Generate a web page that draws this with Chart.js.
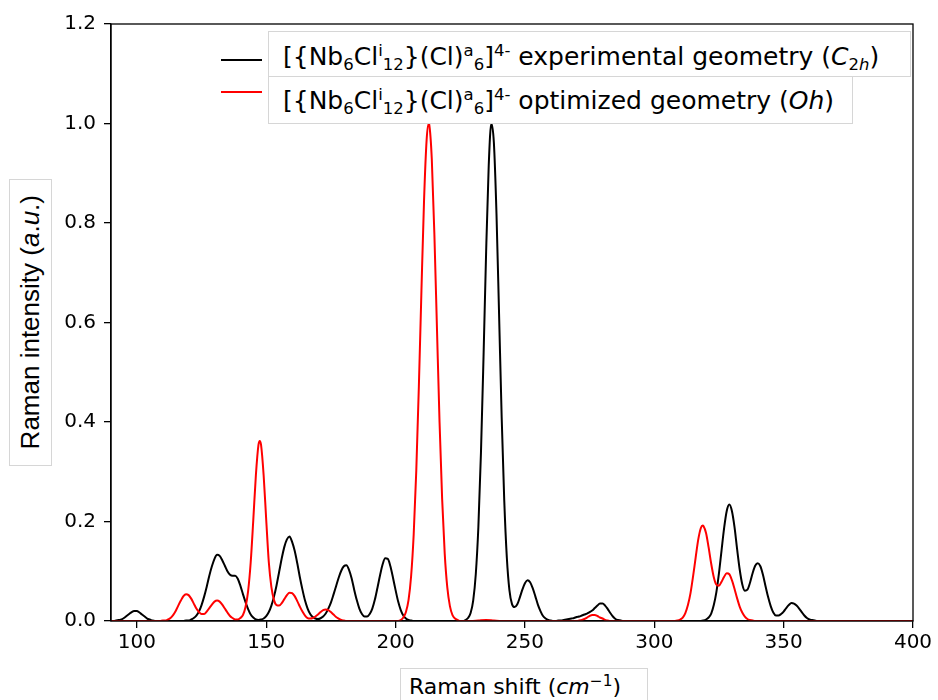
<!DOCTYPE html>
<html>
<head>
<meta charset="utf-8">
<script src="https://cdn.jsdelivr.net/npm/chart.js@4.4.0/dist/chart.umd.min.js"></script>
<style>
    html, body { margin: 0; padding: 0; background: #fff; }
    #wrap { position: relative; width: 938px; height: 700px; overflow: hidden; }
    #raman-chart { position: absolute; left: 0; top: 0; }
    .box {
        position: absolute;
        background: #fff;
        border: 1px solid #d6d6d6;
        box-sizing: border-box;
        color: #000;
        white-space: nowrap;
    }
    .sb { font-size: 0.66em; position: relative; top: 0.32em; }
    .sp { font-size: 0.66em; position: relative; top: -0.55em; }
    #legend-1 { left: 268px; top: 31px; width: 643px; height: 46px; }
    #legend-2 { left: 268px; top: 76px; width: 585px; height: 48px; }
    .legend-text {
        font-family: "DejaVu Sans", sans-serif;
        font-size: 25px;
        padding-left: 14px;
    }
    #legend-1 .legend-text { line-height: 50px; }
    #legend-2 .legend-text { line-height: 48px; }
    .legend-line { position: absolute; left: 221px; width: 41px; height: 2px; }
    #y-title {
        left: 9px; top: 179px; width: 43px; height: 287px;
        display: flex; align-items: center; justify-content: center;
    }
    #y-title span {
        writing-mode: vertical-rl;
        transform: rotate(180deg);
        font-family: "Liberation Sans", Arial, sans-serif;
        font-size: 26px;
    }
    #x-title {
        left: 400px; top: 668px; width: 248px; height: 40px;
        font-family: "DejaVu Sans", sans-serif;
        font-size: 22px;
        padding-left: 8px;
        line-height: 36px;
    }
</style>
</head>
<body>
<div id="wrap">
    <canvas id="raman-chart" width="938" height="700"></canvas>

    <div class="legend-line" style="top: 59px; background: #000;"></div>
    <div class="legend-line" style="top: 91px; background: #ff0000;"></div>
    <div class="box" id="legend-1"><div class="legend-text">[{Nb<span class="sb">6</span>Cl<span class="sp">i</span><span class="sb">12</span>}(Cl)<span class="sp">a</span><span class="sb">6</span>]<span class="sp">4-</span> experimental geometry (<i>C</i><span class="sb">2<i>h</i></span>)</div></div>
    <div class="box" id="legend-2"><div class="legend-text">[{Nb<span class="sb">6</span>Cl<span class="sp">i</span><span class="sb">12</span>}(Cl)<span class="sp">a</span><span class="sb">6</span>]<span class="sp">4-</span> optimized geometry (<i>Oh</i>)</div></div>

    <div class="box" id="y-title"><span>Raman intensity (<i>a</i>.<i>u</i>.)</span></div>
    <div class="box" id="x-title">Raman shift (<i>cm</i><span class="sp" style="font-size:0.7em;top:-0.5em">−1</span>)</div>
</div>

<script>
// x ticks / y ticks
const xTicks = [100, 150, 200, 250, 300, 350, 400];
const yTicks = [0, 0.2, 0.4, 0.6, 0.8, 1.0, 1.2];

// experimental geometry (C2h) - black
const shiftBlack = [
    90, 91, 92, 93, 94, 95, 96, 97, 98, 99, 100, 101, 102, 103, 104, 105, 106, 107,
    118, 119, 120, 121, 122, 123, 124, 125, 126, 127, 128, 129, 130, 131, 132, 133, 134, 135,
    136, 137, 138, 139, 140, 141, 142, 143, 144, 145, 146, 147, 148, 149, 150, 151, 152, 153,
    154, 155, 156, 157, 158, 159, 160, 161, 162, 163, 164, 165, 166, 167, 168, 169, 170, 171,
    172, 173, 174, 175, 176, 177, 178, 179, 180, 181, 182, 183, 184, 185, 186, 187, 188, 189,
    190, 191, 192, 193, 194, 195, 196, 197, 198, 199, 200, 201, 202, 203, 204, 205, 206, 207,
    226, 227, 228, 229, 230, 231, 232, 233, 234, 235, 236, 237, 238, 239, 240, 241, 242, 243,
    244, 245, 246, 247, 248, 249, 250, 251, 252, 253, 254, 255, 256, 257, 258, 259, 260, 261,
    262, 263, 264, 265, 266, 267, 268, 269, 270, 271, 272, 273, 274, 275, 276, 277, 278, 279,
    280, 281, 282, 283, 284, 285, 286, 287, 288,
    317, 318, 319, 320, 321, 322, 323, 324, 325, 326, 327, 328, 329, 330, 331, 332, 333, 334,
    335, 336, 337, 338, 339, 340, 341, 342, 343, 344, 345, 346, 347, 348, 349, 350, 351, 352,
    353, 354, 355, 356, 357, 358, 359, 360, 361, 362, 363, 400
];
const intensityBlack = [
    0, 0, 0.001, 0.002, 0.003, 0.006, 0.010, 0.014, 0.018, 0.020, 0.020, 0.017, 0.013, 0.009, 0.005, 0.003, 0.001, 0,
    0, 0.001, 0.001, 0.003, 0.006, 0.011, 0.019, 0.032, 0.049, 0.069, 0.091, 0.110, 0.125, 0.133, 0.131, 0.122, 0.111, 0.100,
    0.093, 0.091, 0.091, 0.085, 0.071, 0.054, 0.038, 0.024, 0.013, 0.007, 0.003, 0.002, 0.003, 0.005, 0.010, 0.018, 0.031, 0.049,
    0.072, 0.099, 0.126, 0.149, 0.164, 0.170, 0.159, 0.141, 0.116, 0.088, 0.063, 0.041, 0.025, 0.014, 0.008, 0.005, 0.004, 0.0055,
    0.009, 0.015, 0.025, 0.037, 0.053, 0.070, 0.087, 0.101, 0.110, 0.112, 0.103, 0.086, 0.063, 0.042, 0.025, 0.014, 0.009, 0.009,
    0.014, 0.025, 0.043, 0.067, 0.092, 0.114, 0.126, 0.125, 0.110, 0.087, 0.062, 0.039, 0.022, 0.011, 0.005, 0.002, 0.001, 0,
    0, 0.002, 0.006, 0.016, 0.041, 0.094, 0.189, 0.338, 0.532, 0.742, 0.915, 1.0, 0.961, 0.819, 0.617, 0.411, 0.243, 0.128,
    0.062, 0.034, 0.028, 0.033, 0.047, 0.063, 0.076, 0.082, 0.078, 0.066, 0.050, 0.033, 0.020, 0.010, 0.005, 0.002, 0.001, 0,
    0, 0.001, 0.001, 0.002, 0.003, 0.004, 0.005, 0.006, 0.008, 0.009, 0.011, 0.013, 0.015, 0.018, 0.021, 0.026, 0.031, 0.035,
    0.035, 0.031, 0.024, 0.016, 0.009, 0.004, 0.002, 0.001, 0,
    0, 0, 0.001, 0.003, 0.007, 0.015, 0.032, 0.058, 0.096, 0.142, 0.187, 0.221, 0.234, 0.221, 0.189, 0.145, 0.104, 0.074,
    0.061, 0.063, 0.077, 0.096, 0.111, 0.116, 0.110, 0.093, 0.070, 0.048, 0.030, 0.017, 0.011, 0.011, 0.014, 0.019, 0.026, 0.032,
    0.036, 0.035, 0.031, 0.025, 0.018, 0.011, 0.006, 0.003, 0.002, 0.001, 0, 0
];

// optimized geometry (Oh) - red
const shiftRed = [
    90, 109, 110, 111, 112, 113, 114, 115, 116, 117, 118, 119, 120, 121, 122, 123, 124, 125,
    126, 127, 128, 129, 130, 131, 132, 133, 134, 135, 136, 137, 138, 139, 140, 141, 142, 143,
    144, 145, 146, 147, 147.5, 148, 149, 150, 151, 152, 153, 154, 155, 156, 157, 158, 159, 160,
    161, 162, 163, 164, 165, 166, 167, 168, 169, 170, 171, 172, 173, 174, 175, 176, 177, 178,
    179, 180, 181,
    201, 202, 203, 204, 205, 206, 207, 208, 209, 210, 211, 212, 212.8, 213, 214, 215, 216, 217,
    218, 219, 220, 221, 222, 223, 224, 225, 229, 232, 235, 238, 241,
    269, 270, 271, 272, 273, 274, 275, 276, 277, 278, 279, 280, 281, 282, 283,
    308, 309, 310, 311, 312, 313, 314, 315, 316, 317, 318, 318.7, 319, 320, 321, 322, 323, 324,
    325, 326, 327, 328, 329, 330, 331, 332, 333, 334, 335, 336, 337, 338, 339, 400
];
const intensityRed = [
    0, 0, 0.001, 0.001, 0.003, 0.006, 0.012, 0.020, 0.031, 0.041, 0.050, 0.054, 0.052, 0.045, 0.035, 0.025, 0.018, 0.014,
    0.014, 0.019, 0.026, 0.033, 0.039, 0.041, 0.039, 0.033, 0.025, 0.017, 0.010, 0.006, 0.003, 0.003, 0.006, 0.012, 0.028, 0.060,
    0.118, 0.203, 0.293, 0.354, 0.362, 0.354, 0.293, 0.203, 0.118, 0.068, 0.042, 0.032, 0.031, 0.036, 0.044, 0.052, 0.057, 0.056,
    0.050, 0.040, 0.029, 0.019, 0.011, 0.006, 0.005, 0.006, 0.009, 0.013, 0.018, 0.022, 0.023, 0.022, 0.018, 0.013, 0.008, 0.005,
    0.002, 0.001, 0,
    0, 0.002, 0.007, 0.018, 0.042, 0.090, 0.174, 0.302, 0.472, 0.665, 0.845, 0.967, 1.0, 0.998, 0.928, 0.777, 0.587, 0.399,
    0.245, 0.135, 0.067, 0.030, 0.012, 0.005, 0.002, 0, 0, 0.001, 0.002, 0.001, 0,
    0, 0, 0.001, 0.002, 0.004, 0.007, 0.010, 0.012, 0.012, 0.010, 0.007, 0.005, 0.002, 0.001, 0,
    0, 0.001, 0.003, 0.007, 0.016, 0.032, 0.056, 0.090, 0.128, 0.164, 0.187, 0.192, 0.191, 0.177, 0.148, 0.115, 0.088, 0.073,
    0.071, 0.079, 0.089, 0.096, 0.094, 0.082, 0.065, 0.046, 0.029, 0.017, 0.009, 0.004, 0.002, 0.001, 0, 0
];

function toPoints(xs, ys) {
    return xs.map((x, i) => ({ x: x, y: ys[i] }));
}

// box round the plot (top and right spines too)
const framePlugin = {
    id: "frame",
    afterDraw(chart) {
        const { ctx, chartArea } = chart;
        ctx.save();
        ctx.strokeStyle = "#000";
        ctx.lineWidth = 1.3;
        ctx.strokeRect(chartArea.left, chartArea.top, chartArea.right - chartArea.left, chartArea.bottom - chartArea.top);
        ctx.restore();
    }
};

Chart.defaults.font.family = "DejaVu Sans";
Chart.defaults.color = "#000";

const ctx = document.getElementById("raman-chart").getContext("2d");

new Chart(ctx, {
    type: "line",
    data: {
        datasets: [
            {
                label: "experimental geometry (C2h)",
                data: toPoints(shiftBlack, intensityBlack),
                borderColor: "#000000",
                borderWidth: 2,
                pointRadius: 0,
                cubicInterpolationMode: "monotone",
                order: 2
            },
            {
                label: "optimized geometry (Oh)",
                data: toPoints(shiftRed, intensityRed),
                borderColor: "#ff0000",
                borderWidth: 2,
                pointRadius: 0,
                cubicInterpolationMode: "monotone",
                order: 1
            }
        ]
    },
    options: {
        responsive: false,
        animation: false,
        devicePixelRatio: 1,
        layout: { padding: { top: 24, right: 25, left: 0, bottom: 0 } },
        plugins: {
            legend: { display: false },
            tooltip: { enabled: false }
        },
        scales: {
            x: {
                type: "linear",
                min: 90,
                max: 400,
                afterBuildTicks: (scale) => { scale.ticks = xTicks.map(v => ({ value: v })); },
                afterFit: (scale) => { scale.height = 79; },
                grid: { drawOnChartArea: false, tickLength: 7, color: "#000", lineWidth: 1.3 },
                border: { color: "#000", width: 1.3 },
                ticks: { font: { size: 20 }, padding: 3, maxRotation: 0, callback: v => String(v) }
            },
            y: {
                type: "linear",
                min: 0,
                max: 1.2,
                afterBuildTicks: (scale) => { scale.ticks = yTicks.map(v => ({ value: v })); },
                afterFit: (scale) => { scale.width = 111; },
                grid: { drawOnChartArea: false, tickLength: 7, color: "#000", lineWidth: 1.3 },
                border: { color: "#000", width: 1.3 },
                ticks: { font: { size: 20 }, padding: 8, callback: v => v.toFixed(1) }
            }
        }
    },
    plugins: [framePlugin]
});
</script>
</body>
</html>
